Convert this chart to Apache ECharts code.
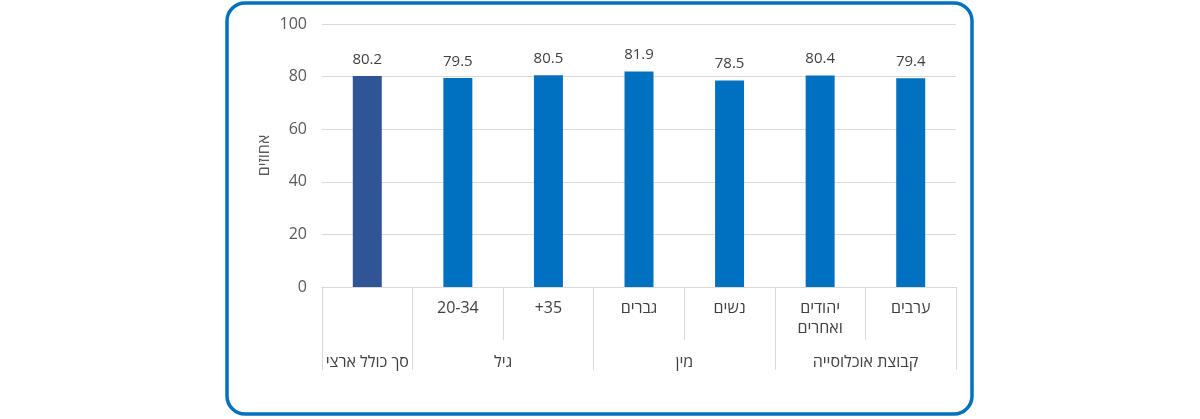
<!DOCTYPE html>
<html><head><meta charset="utf-8">
<script src="https://cdn.jsdelivr.net/npm/echarts@6/dist/echarts.min.js"></script>
<style>html,body{margin:0;padding:0;background:#fff;}#c{width:1200px;height:419px;}</style>
</head><body><div id="c"></div>
<script>
const categories = ['', '20-34', '+35', 'גברים', 'נשים', 'יהודים\nואחרים', 'ערבים'];
const values = [80.2, 79.5, 80.5, 81.9, 78.5, 80.4, 79.4];
const groupNames = ['סך כולל ארצי', 'גיל', 'מין', 'קבוצת אוכלוסייה'];
const groupBounds = [0, 1, 3, 5, 7];
const yTicks = [0, 20, 40, 60, 80, 100];
const yName = 'אחוזים';

const groupCenters = groupNames.map((n, i) => (groupBounds[i] + groupBounds[i + 1]) / 2);
const FONT = 'Open Sans, Noto Sans, sans-serif';
const chart = echarts.init(document.getElementById('c'), null, {renderer: 'canvas'});
chart.setOption({
  animation: false,
  grid: {left: 322, right: 244, top: 24, bottom: 132},
  graphic: [{
    type: 'rect', shape: {x: 227, y: 3, width: 745, height: 411, r: 18},
    style: {fill: 'none', stroke: '#0070C0', lineWidth: 3.5}, z: -1
  }],
  xAxis: [{
    type: 'category', data: categories,
    axisLine: {lineStyle: {color: '#d9d9d9'}},
    axisTick: {show: true, length: 53, lineStyle: {color: '#d9d9d9'}},
    axisLabel: {color: '#404040', fontSize: 16, fontFamily: FONT, margin: 11, lineHeight: 20, interval: 0}
  }, {
    type: 'value', min: 0, max: 7, position: 'bottom',
    splitLine: {show: false},
    axisLine: {show: false},
    axisTick: {show: true, length: 83, customValues: groupBounds, lineStyle: {color: '#d9d9d9'}},
    axisLabel: {
      show: true, customValues: groupCenters, color: '#404040', fontSize: 16, fontFamily: FONT, margin: 67,
      formatter: v => { const i = groupCenters.indexOf(v); return i >= 0 ? groupNames[i] : ''; }
    }
  }],
  yAxis: {
    type: 'value', min: yTicks[0], max: yTicks[yTicks.length - 1], interval: 20,
    name: yName, nameLocation: 'middle', nameGap: 50, nameRotate: 90, nameMoveOverlap: false,
    nameTextStyle: {color: '#595959', fontSize: 16, fontFamily: FONT},
    axisLine: {show: false}, axisTick: {show: false},
    axisLabel: {color: '#595959', fontSize: 16, fontFamily: FONT, margin: 15},
    splitLine: {lineStyle: {color: '#d9d9d9'}}
  },
  series: [{
    type: 'bar', xAxisIndex: 0, barWidth: '32%',
    data: values.map((v, i) => ({value: v, itemStyle: {color: i === 0 ? '#2F5597' : '#0070C0'}})),
    label: {show: true, position: 'top', distance: 9, color: '#404040', fontSize: 15, fontFamily: FONT, formatter: p => p.value.toFixed(1)}
  }]
});
</script></body></html>
